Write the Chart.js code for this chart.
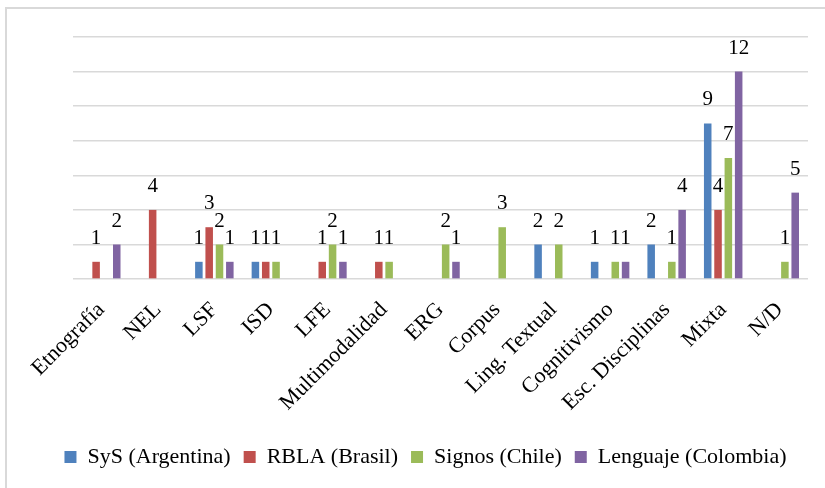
<!DOCTYPE html>
<html>
<head>
<meta charset="utf-8">
<script src="https://cdn.jsdelivr.net/npm/chart.js@4.4.1/dist/chart.umd.min.js"></script>
<style>
  html, body { margin: 0; padding: 0; background: #ffffff; }
  #wrap { position: relative; width: 825px; height: 488px; }
  canvas { display: block; }
</style>
</head>
<body>
<div id="wrap"><canvas id="c" width="825" height="488"></canvas></div>
<script>
const categories = ["Etnografía", "NEL", "LSF", "ISD", "LFE", "Multimodalidad", "ERG", "Corpus", "Ling. Textual", "Cognitivismo", "Esc. Disciplinas", "Mixta", "N/D"];
const seriesNames = ["SyS (Argentina)", "RBLA (Brasil)", "Signos (Chile)", "Lenguaje (Colombia)"];
const sysArgentina   = [0, 0, 1, 1, 0, 0, 0, 0, 2, 1, 2, 9, 0];
const rblaBrasil     = [1, 4, 3, 1, 1, 1, 0, 0, 0, 0, 0, 4, 0];
const signosChile    = [0, 0, 2, 1, 2, 1, 2, 3, 2, 1, 1, 7, 1];
const lenguajeColombia = [2, 0, 1, 0, 1, 0, 1, 0, 0, 1, 4, 12, 5];
const yTicks = [0, 2, 4, 6, 8, 10, 12, 14];
const colors = ["#4F81BD", "#C0504D", "#9BBB59", "#8064A2"];
const FONT = "'Liberation Serif', serif";

const seriesData = [sysArgentina, rblaBrasil, signosChile, lenguajeColombia];

Chart.defaults.font.family = FONT;
Chart.defaults.font.size = 22;
Chart.defaults.color = '#000000';

const frame = {
  id: 'frame',
  beforeDraw(chart) {
    const ctx = chart.ctx;
    ctx.save();
    ctx.fillStyle = '#ffffff';
    ctx.fillRect(0, 0, chart.width, chart.height);
    ctx.strokeStyle = '#d9d9d9';
    ctx.lineWidth = 2;
    ctx.strokeRect(6, 8, 900, 600);
    ctx.restore();
  }
};

const valueLabels = {
  id: 'valueLabels',
  afterDatasetsDraw(chart) {
    const ctx = chart.ctx;
    ctx.save();
    ctx.font = "21px " + FONT;
    ctx.fillStyle = '#000000';
    ctx.textAlign = 'center';
    ctx.textBaseline = 'alphabetic';
    chart.data.datasets.forEach((ds, di) => {
      const meta = chart.getDatasetMeta(di);
      meta.data.forEach((bar, i) => {
        const v = ds.data[i];
        if (!v) return;
        ctx.fillText(String(v), bar.x, bar.y - 18);
      });
    });
    ctx.restore();
  }
};

new Chart(document.getElementById('c'), {
  type: 'bar',
  data: {
    labels: categories,
    datasets: seriesNames.map((name, k) => ({
      label: name,
      data: seriesData[k],
      backgroundColor: colors[k],
      borderWidth: 0,
      categoryPercentage: 0.73,
      barPercentage: 0.73
    }))
  },
  options: {
    responsive: false,
    animation: false,
    devicePixelRatio: 1,
    layout: { padding: { left: 43, right: 17, top: 37, bottom: 10 } },
    plugins: {
      legend: {
        position: 'bottom',
        labels: {
          boxWidth: 12,
          boxHeight: 12,
          padding: 13,
          color: '#000000',
          font: { family: FONT, size: 22 }
        }
      },
      tooltip: { enabled: false }
    },
    scales: {
      y: {
        min: 0,
        max: 14,
        afterBuildTicks(axis) { axis.ticks = yTicks.map(v => ({ value: v })); },
        afterFit(scale) { scale.width = 30; },
        ticks: { display: false },
        grid: { color: '#d9d9d9', lineWidth: 1.5, drawTicks: false },
        border: { display: false }
      },
      x: {
        grid: { display: false, drawTicks: false },
        border: { display: false },
        afterFit(scale) { scale.height -= 1; },
        ticks: {
          color: '#000000',
          font: { family: FONT, size: 22 },
          minRotation: 45,
          maxRotation: 45,
          padding: 18,
          autoSkip: false
        }
      }
    }
  },
  plugins: [frame, valueLabels]
});
</script>
</body>
</html>
